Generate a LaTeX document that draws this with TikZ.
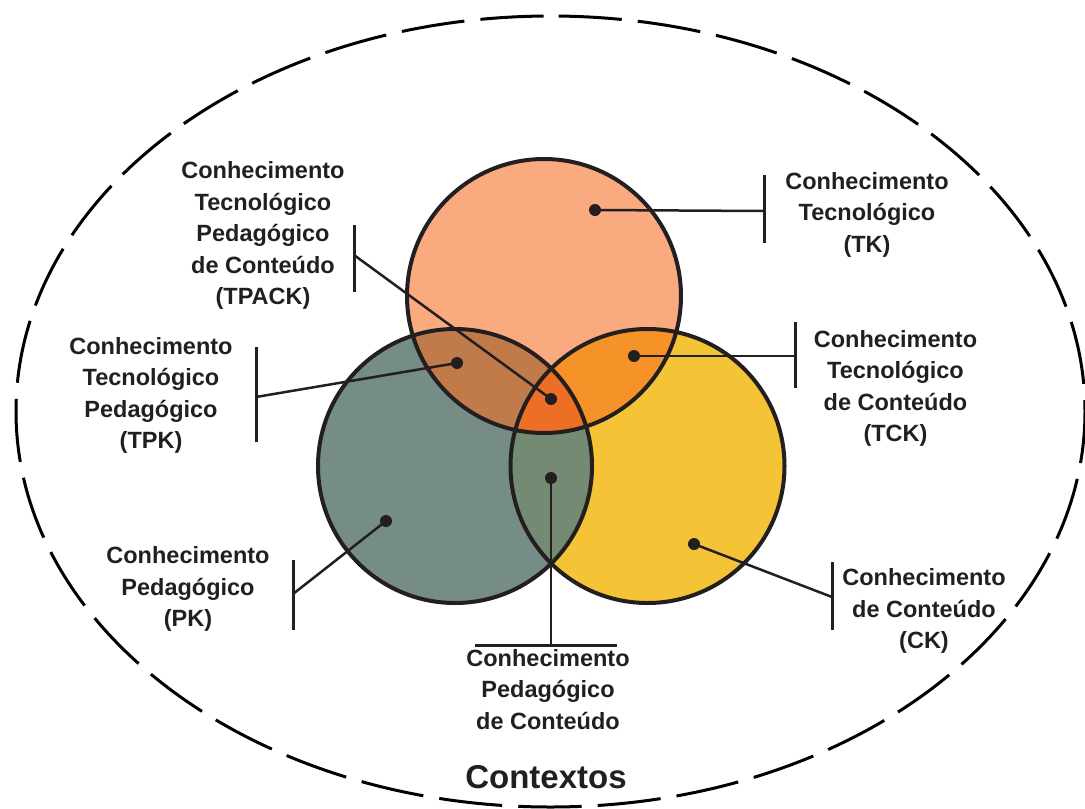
\documentclass[tikz,border=0pt]{standalone}
\usepackage{fontspec}
\setmainfont{Liberation Sans}
\definecolor{ink}{HTML}{231F20}
\definecolor{tkc}{HTML}{F9AA7F}
\definecolor{pkc}{HTML}{768C87}
\definecolor{ckc}{HTML}{F5C336}
\definecolor{tpkc}{HTML}{C17B4B}
\definecolor{tckc}{HTML}{F69328}
\definecolor{pckc}{HTML}{758A72}
\definecolor{tpackc}{HTML}{EC6F25}
\begin{document}
\begin{tikzpicture}[x=1pt,y=-1pt,
  lbl/.style={font=\bfseries\fontsize{23.5}{31.5}\selectfont, align=center, text=ink, inner sep=0pt},
  dot/.style={circle, fill=ink, inner sep=0pt, minimum size=12pt},
  conn/.style={draw=ink, line width=2.5pt},
  barline/.style={draw=ink, line width=3pt},
  ring/.style={draw=ink, line width=4pt},
  ctx/.style={draw=black, line width=3pt, dash pattern=on 63.3pt off 16.15pt, dash phase=71.4pt}
]
\useasboundingbox (0,0) rectangle (1085,809);

% outer dashed ellipse (contexts)
\draw[ctx] (550.5,16) arc[start angle=-90, end angle=270, x radius=534.5, y radius=395.5];

% base circles
\fill[pkc] (455,466) circle[radius=137];
\fill[ckc] (647.5,466) circle[radius=137];
\fill[tkc] (544,296) circle[radius=137];
% overlaps
\begin{scope}
  \clip (544,296) circle[radius=137];
  \fill[tpkc] (455,466) circle[radius=137];
  \fill[tckc] (647.5,466) circle[radius=137];
\end{scope}
\begin{scope}
  \clip (455,466) circle[radius=137];
  \fill[pckc] (647.5,466) circle[radius=137];
\end{scope}
\begin{scope}
  \clip (544,296) circle[radius=137];
  \clip (455,466) circle[radius=137];
  \fill[tpackc] (647.5,466) circle[radius=137];
\end{scope}
% outlines
\draw[ring] (455,466) circle[radius=137];
\draw[ring] (647.5,466) circle[radius=137];
\draw[ring] (544,296) circle[radius=137];

% dots
\node[dot] (dTK) at (595,210) {};
\node[dot] (dTPK) at (457,363) {};
\node[dot] (dTPACK) at (551,399) {};
\node[dot] (dTCK) at (634,356) {};
\node[dot] (dPCK) at (551,478) {};
\node[dot] (dPK) at (386,521) {};
\node[dot] (dCK) at (694,544) {};

% bars
\coordinate (bTKa) at (764,175);   \coordinate (bTKb) at (764,243);  \coordinate (bTK) at (764,211);
\coordinate (bTCKa) at (795,322);  \coordinate (bTCKb) at (795,388); \coordinate (bTCK) at (795,356);
\coordinate (bTPACKa) at (354,225);\coordinate (bTPACKb) at (354,292);\coordinate (bTPACK) at (354,255);
\coordinate (bTPKa) at (256,347);  \coordinate (bTPKb) at (256,442); \coordinate (bTPK) at (256,397);
\coordinate (bPKa) at (293,560);   \coordinate (bPKb) at (293,630);  \coordinate (bPK) at (293,594);
\coordinate (bCKa) at (832,562);   \coordinate (bCKb) at (832,630);  \coordinate (bCK) at (832,597);
\coordinate (bPCKa) at (475,645);  \coordinate (bPCKb) at (617,645); \coordinate (bPCK) at (551,645);

\foreach \b in {TK,TCK,TPACK,TPK,PK,CK,PCK}{
  \draw[barline] (b\b a) -- (b\b b);
}
\draw[conn] (dTK.center) -- (bTK);
\draw[conn] (dTCK.center) -- (bTCK);
\draw[conn] (dTPACK.center) -- (bTPACK);
\draw[conn] (dTPK.center) -- (bTPK);
\draw[conn] (dPK.center) -- (bPK);
\draw[conn] (dCK.center) -- (bCK);
\draw[conn] (dPCK.center) -- (bPCK);

% labels
\node[lbl] (lTK) at (867,214.5) {Conhecimento\\Tecnológico\\(TK)};
\node[lbl] (lTCK) at (895.5,388.5) {Conhecimento\\Tecnológico\\de Conteúdo\\(TCK)};
\node[lbl] (lTPACK) at (263,235.5) {Conhecimento\\Tecnológico\\Pedagógico\\de Conteúdo\\(TPACK)};
\node[lbl] (lTPK) at (151,395.5) {Conhecimento\\Tecnológico\\Pedagógico\\(TPK)};
\node[lbl] (lPK) at (188,589) {Conhecimento\\Pedagógico\\(PK)};
\node[lbl] (lCK) at (924,611) {Conhecimento\\de Conteúdo\\(CK)};
\node[lbl] (lPCK) at (548,689.5) {Conhecimento\\Pedagógico\\de Conteúdo};
\node[lbl, font=\bfseries\fontsize{33}{40}\selectfont] (lCtx) at (546,777) {Contextos};
\end{tikzpicture}
\end{document}
